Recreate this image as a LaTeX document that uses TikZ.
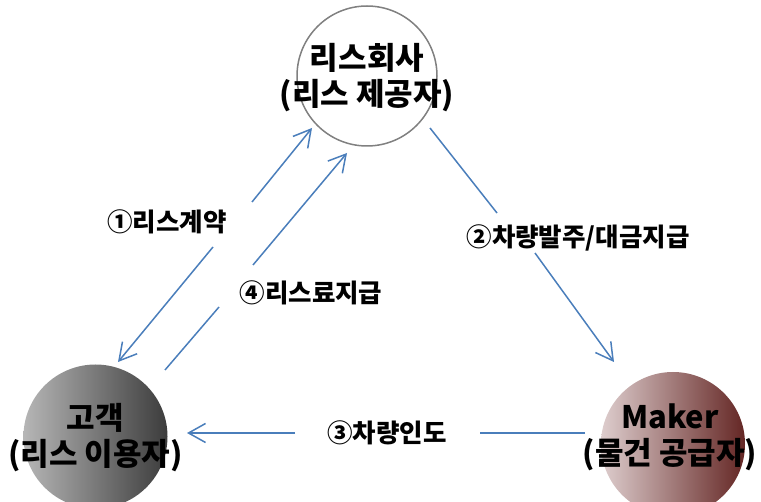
\documentclass[tikz,border=0pt]{standalone}
\usepackage{fontspec}
\setmainfont{Noto Sans CJK KR}
\usetikzlibrary{arrows.meta}
\definecolor{conn}{RGB}{74,126,187}
\definecolor{ringgray}{RGB}{128,128,128}
\definecolor{gL}{RGB}{182,182,182}
\definecolor{gM}{RGB}{150,150,150}
\definecolor{gR}{RGB}{60,60,60}
\definecolor{rL}{RGB}{222,206,206}
\definecolor{rM}{RGB}{192,80,77}
\definecolor{rR}{RGB}{100,38,36}
\tikzset{
  party/.style={circle, minimum size=144pt, inner sep=0pt},
  partytext/.style={align=center, inner sep=0pt,
    font=\fontsize{31}{36}\selectfont\bfseries},
  lbl/.style={font=\fontsize{25.5}{28}\selectfont\bfseries, inner sep=0pt},
  conline/.style={draw=conn, line width=1.5pt},
  tip/.style={-{Straight Barb[length=17pt, width=19pt, line width=1.5pt]}},
}
\begin{document}
\begin{tikzpicture}[x=1pt, y=-1pt]
\useasboundingbox (0,0) rectangle (761,502);
\clip (0,0) rectangle (761,502);
% parties
\node[party, draw=ringgray, line width=1.5pt, fill=white, minimum size=140pt] (lease) at (367,76) {};
\node[party, left color=gL, middle color=gM, right color=gR] (cust) at (95.5,436.5) {};
\node[party, left color=rL, middle color=rM, right color=rR] (maker) at (673,444) {};
\node[partytext] (leaseT) at ([yshift=-2pt]lease.center) {리스회사\\(리스 제공자)};
\node[partytext] (custT) at ([yshift=-1pt]cust.center) {고객\\(리스 이용자)};
\node[partytext] (makerT) at ([xshift=-3pt, yshift=7pt]maker.center) {Maker\\(물건 공급자)};
% labels
\node[lbl] (l1) at (167,222) {①리스계약};
\node[lbl] (l4) at (311,293) {④리스료지급};
\node[lbl] (l2) at (578,238) {②차량발주/대금지급};
\node[lbl] (l3) at (387,433) {③차량인도};
% connector points
\coordinate (a1t) at (312,128);
\coordinate (a1b) at (118,362);
\coordinate (a1g1) at (252,202);
\coordinate (a1g2) at (213,247);
\coordinate (a4s) at (165,370);
\coordinate (a4e) at (347,153);
\coordinate (a4g1) at (219,307);
\coordinate (a4g2) at (253,265);
\coordinate (a2s) at (430,128);
\coordinate (a2e) at (614,362);
\coordinate (a2g1) at (497,213);
\coordinate (a2g2) at (535,253);
\coordinate (a3s) at (585,433);
\coordinate (a3e) at (187,433);
\coordinate (a3g1) at (480,433);
\coordinate (a3g2) at (295,433);
% connectors
\draw[conline, tip] (a1g1) -- (a1t);
\draw[conline, tip] (a1g2) -- (a1b);
\draw[conline] (a4s) -- (a4g1);
\draw[conline, tip] (a4g2) -- (a4e);
\draw[conline] (a2s) -- (a2g1);
\draw[conline, tip] (a2g2) -- (a2e);
\draw[conline] (a3s) -- (a3g1);
\draw[conline, tip] (a3g2) -- (a3e);
\end{tikzpicture}
\end{document}
